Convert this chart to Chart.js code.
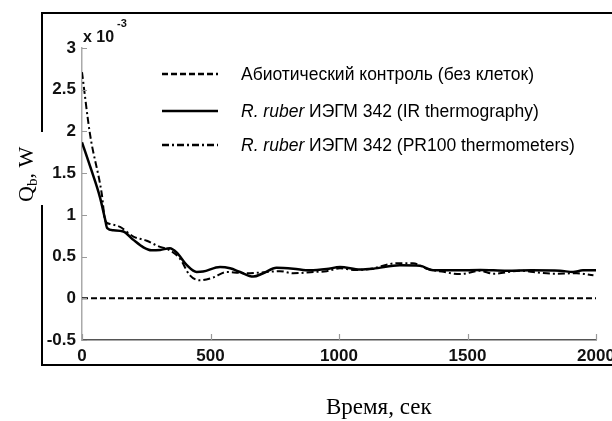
<!DOCTYPE html>
<html>
<head>
<meta charset="utf-8">
<script src="https://cdn.jsdelivr.net/npm/chart.js@4.4.1/dist/chart.umd.min.js"></script>
<style>
  html, body { margin: 0; padding: 0; background: #fff; }
  canvas { display: block; }
</style>
</head>
<body>
<canvas id="chart" width="612" height="421"></canvas>
<script>
// data (Q in units of 10^-3 W, time in seconds)
const xTicks = [0, 500, 1000, 1500, 2000];
const yTicks = [-0.5, 0, 0.5, 1, 1.5, 2, 2.5, 3];

const controlTime = [0, 2000];
const controlQ = [0, 0];

const irTime = [0, 35, 70, 89, 98, 122, 161, 200, 239, 270, 304, 342, 368, 407, 446, 471, 537, 576, 615, 666, 705, 757, 822, 887, 952, 1004, 1082, 1133, 1237, 1315, 1366, 1458, 1550, 1653, 1750, 1860, 1911, 1949, 2000];
const irQ = [1.87, 1.55, 1.21, 0.96, 0.84, 0.815, 0.80, 0.70, 0.61, 0.575, 0.58, 0.60, 0.55, 0.40, 0.315, 0.32, 0.375, 0.36, 0.315, 0.26, 0.30, 0.365, 0.355, 0.335, 0.35, 0.375, 0.345, 0.355, 0.395, 0.39, 0.335, 0.335, 0.34, 0.33, 0.335, 0.33, 0.315, 0.335, 0.335];

const prTime = [0, 31, 77, 90, 109, 148, 200, 252, 296, 342, 381, 420, 459, 511, 563, 641, 719, 770, 822, 900, 952, 1004, 1055, 1120, 1224, 1288, 1341, 1400, 1471, 1549, 1600, 1705, 1770, 1834, 1925, 1990];
const prQ = [2.71, 1.97, 1.25, 0.935, 0.89, 0.855, 0.74, 0.69, 0.625, 0.575, 0.475, 0.275, 0.215, 0.25, 0.315, 0.30, 0.315, 0.325, 0.30, 0.315, 0.325, 0.36, 0.34, 0.35, 0.42, 0.42, 0.355, 0.32, 0.29, 0.33, 0.295, 0.33, 0.31, 0.295, 0.30, 0.275];

const legendLabels = [
    { italic: '', text: 'Абиотический контроль (без клеток)' },
    { italic: 'R. ruber', text: ' ИЭГМ 342 (IR thermography)' },
    { italic: 'R. ruber', text: ' ИЭГМ 342 (PR100 thermometers)' }
];

const toPoints = (xs, ys) => xs.map((x, i) => ({ x: x, y: ys[i] }));

const dashStyles = [[6, 3], [], [7, 3, 2, 3]];
const lineWidths = [2, 2.5, 2];

// frame, ticks, titles and legend
const decorPlugin = {
    id: 'decor',
    beforeDraw(chart) {
        const ctx = chart.ctx;
        ctx.save();
        ctx.fillStyle = '#fff';
        ctx.fillRect(0, 0, chart.width, chart.height);
        ctx.restore();
    },
    afterDraw(chart) {
        const ctx = chart.ctx;
        const xs = chart.scales.x;
        const ys = chart.scales.y;
        const area = chart.chartArea;
        ctx.save();

        // inward tick marks
        ctx.strokeStyle = '#9a9a9a';
        ctx.lineWidth = 1.2;
        ctx.beginPath();
        yTicks.forEach(v => {
            const py = Math.round(ys.getPixelForValue(v)) + 0.5;
            ctx.moveTo(area.left, py);
            ctx.lineTo(area.left + 5, py);
        });
        xTicks.forEach(v => {
            const px = Math.round(xs.getPixelForValue(v)) + 0.5;
            ctx.moveTo(px, area.bottom);
            ctx.lineTo(px, area.bottom - 6);
        });
        ctx.stroke();

        // black outer frame
        ctx.strokeStyle = '#000';
        ctx.lineWidth = 2;
        ctx.beginPath();
        ctx.moveTo(41, 13); ctx.lineTo(612, 13);
        ctx.moveTo(42, 13); ctx.lineTo(42, 132);
        ctx.moveTo(42, 205); ctx.lineTo(42, 366);
        ctx.moveTo(41, 365); ctx.lineTo(612, 365);
        ctx.stroke();

        // x 10^-3
        ctx.fillStyle = '#111';
        ctx.textBaseline = 'alphabetic';
        ctx.textAlign = 'left';
        ctx.font = 'bold 16px "Liberation Sans", Arial';
        ctx.fillText('x 10', 83, 42);
        ctx.font = 'bold 11px "Liberation Sans", Arial';
        ctx.fillText('-3', 117, 27);

        // y title Q_b, W
        ctx.save();
        ctx.translate(33, 202);
        ctx.rotate(-Math.PI / 2);
        ctx.fillStyle = '#000';
        ctx.font = '22px "Liberation Serif", "Times New Roman"';
        ctx.fillText('Q', 0, 0);
        let w = ctx.measureText('Q').width;
        ctx.font = '15px "Liberation Serif", "Times New Roman"';
        ctx.fillText('b', w, 4);
        w += ctx.measureText('b').width;
        ctx.font = '22px "Liberation Serif", "Times New Roman"';
        ctx.fillText(', W', w, 0);
        ctx.restore();

        // x title
        ctx.fillStyle = '#000';
        ctx.font = '23px "Liberation Serif", "Times New Roman"';
        ctx.fillText('Время, сек', 326, 414);

        // legend
        const rowsY = [74, 111, 145];
        legendLabels.forEach((item, i) => {
            const y = rowsY[i];
            ctx.strokeStyle = '#000';
            ctx.lineWidth = 2.5;
            ctx.setLineDash(dashStyles[i]);
            ctx.beginPath();
            ctx.moveTo(162, y);
            ctx.lineTo(218, y);
            ctx.stroke();
            ctx.setLineDash([]);

            ctx.fillStyle = '#000';
            ctx.textBaseline = 'middle';
            let tx = 241;
            if (item.italic) {
                ctx.font = 'italic 17.5px "Liberation Sans", Arial';
                ctx.fillText(item.italic, tx, y + 1);
                tx += ctx.measureText(item.italic).width;
            }
            ctx.font = '17.5px "Liberation Sans", Arial';
            ctx.fillText(item.text, tx, y + 1);
        });

        ctx.restore();
    }
};

const tickFont = { family: '"Liberation Sans", Arial', size: 17, weight: 'bold' };
const plainLabel = v => String(v);

new Chart(document.getElementById('chart'), {
    type: 'line',
    data: {
        datasets: [
            { label: legendLabels[0].text, data: toPoints(controlTime, controlQ) },
            { label: legendLabels[1].text, data: toPoints(irTime, irQ) },
            { label: legendLabels[2].text, data: toPoints(prTime, prQ) }
        ].map((ds, i) => Object.assign(ds, {
            borderColor: '#000',
            borderWidth: lineWidths[i],
            borderDash: dashStyles[i],
            pointRadius: 0,
            fill: false,
            tension: 0.4,
            cubicInterpolationMode: 'monotone'
        }))
    },
    options: {
        responsive: false,
        animation: false,
        layout: { padding: { left: 0, right: 16, top: 48, bottom: 0 } },
        plugins: {
            legend: { display: false },
            tooltip: { enabled: false }
        },
        scales: {
            x: {
                type: 'linear',
                min: 0,
                max: 2000,
                afterFit(scale) {
                    scale.height = 81;
                    scale.paddingLeft = 0;
                    scale.paddingRight = 0;
                },
                afterBuildTicks(scale) { scale.ticks = xTicks.map(v => ({ value: v })); },
                grid: { display: false, drawTicks: false },
                border: { display: true, color: '#555', width: 1.5 },
                ticks: { font: tickFont, color: '#111', padding: 6, maxRotation: 0, callback: plainLabel }
            },
            y: {
                min: -0.5,
                max: 3,
                afterFit(scale) { scale.width = 82; },
                afterBuildTicks(scale) { scale.ticks = yTicks.map(v => ({ value: v })); },
                grid: { display: false, drawTicks: false },
                border: { display: true, color: '#aaa', width: 1.5 },
                ticks: { font: tickFont, color: '#111', padding: 6, callback: plainLabel }
            }
        }
    },
    plugins: [decorPlugin]
});
</script>
</body>
</html>
